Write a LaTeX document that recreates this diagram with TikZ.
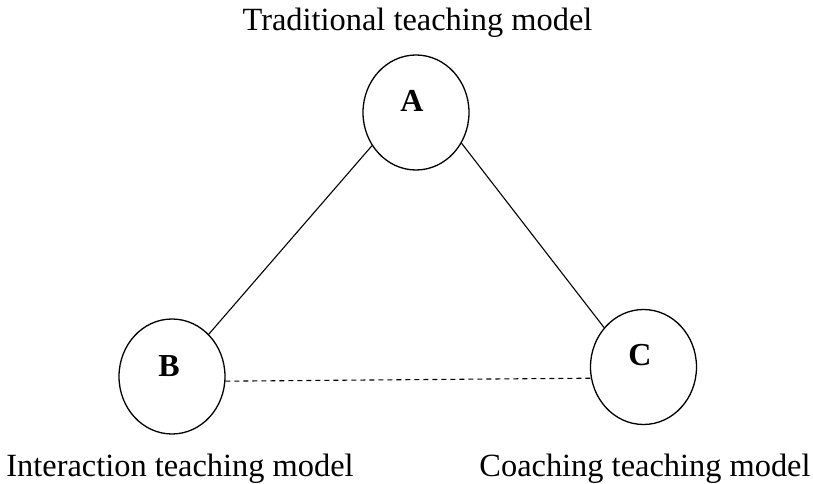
\documentclass[tikz,border=0pt]{standalone}
\usepackage{fontspec}
\setmainfont{Liberation Serif}
\usetikzlibrary{shapes.geometric}
\begin{document}
\begin{tikzpicture}[x=1pt,y=1pt,
  circ/.style={draw, ellipse, line width=1.3pt, minimum width=106pt, minimum height=115pt, inner sep=0pt},
  letter/.style={anchor=base, font=\fontsize{32}{36}\selectfont\bfseries, inner sep=0pt},
  caption/.style={anchor=base, font=\fontsize{32.4}{36}\selectfont, inner sep=0pt},
  link/.style={line width=1.1pt}]
\useasboundingbox (0,0) rectangle (813,-484);
\node[circ] (A) at (416,-112.5) {};
\node[circ] (B) at (172,-376.5) {};
\node[circ] (C) at (643.5,-367) {};
\node[letter] (la) at (412,-111) {A};
\node[letter] (lb) at (169,-376) {B};
\node[letter] (lc) at (640,-365) {C};
\node[caption] (ta) at (417.5,-31) {Traditional teaching model};
\node[caption] (tb) at (180,-476) {Interaction teaching model};
\node[caption] (tc) at (645,-476) {Coaching teaching model};
\draw[link] (A.217.7) -- (B.49);
\draw[link] (A.-34.5) -- (C.135.4);
\draw[link, dash pattern=on 5pt off 4pt] (B.-5) -- (C.192.6);
\end{tikzpicture}
\end{document}
